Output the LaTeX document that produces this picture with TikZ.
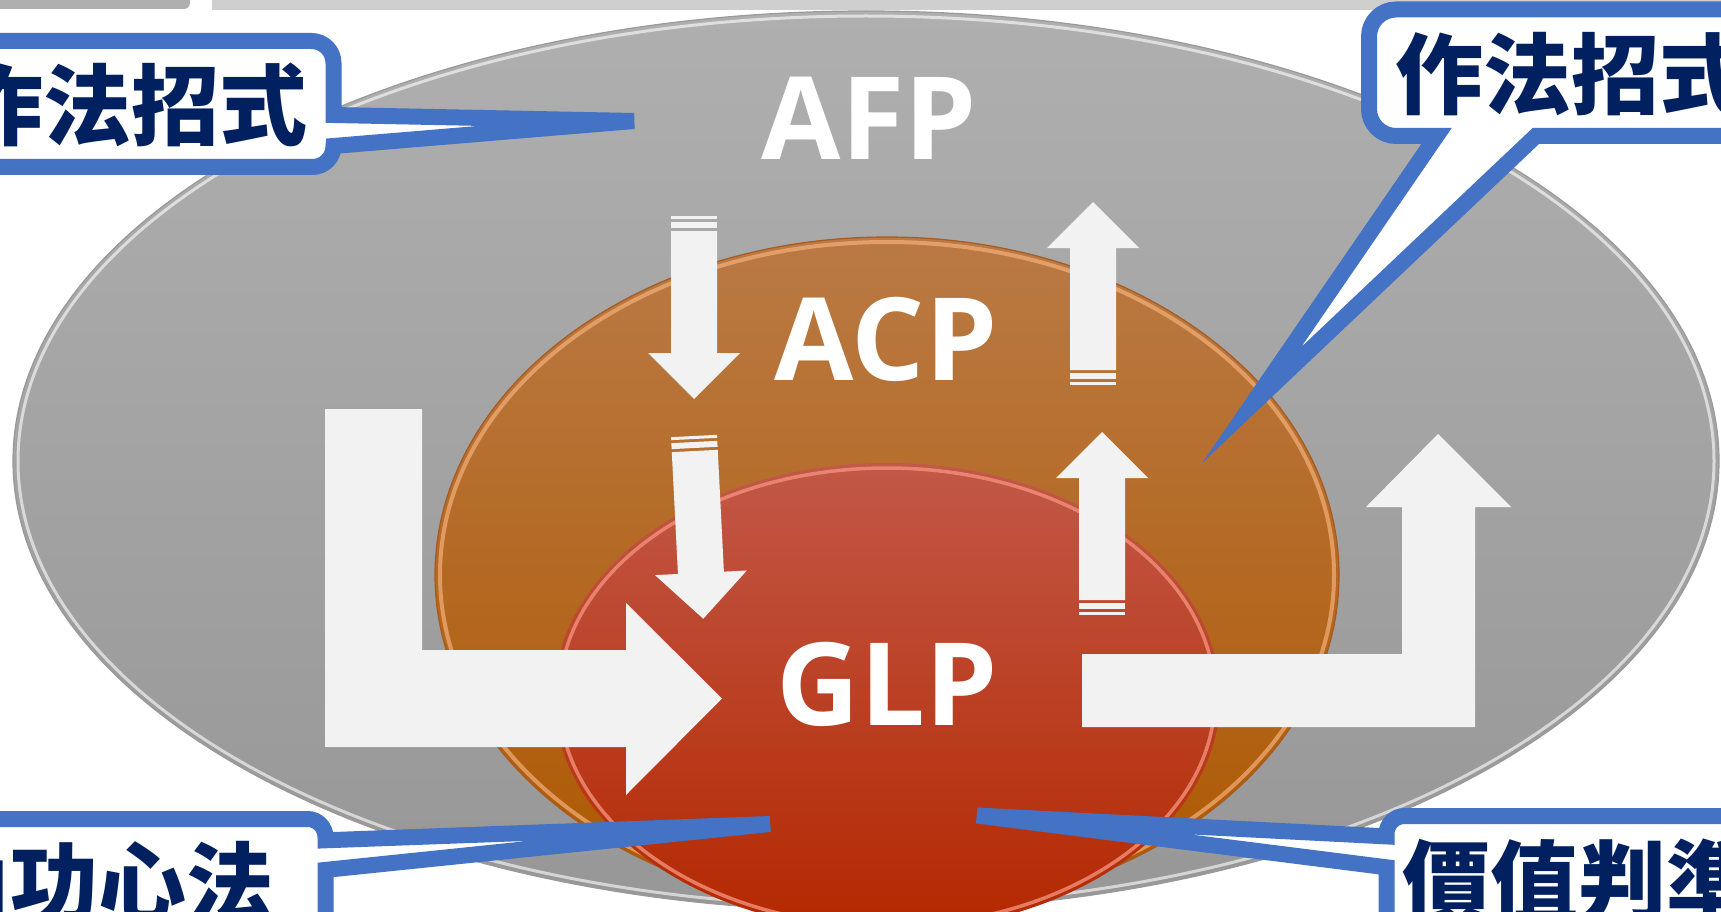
\documentclass[tikz,border=0pt]{standalone}
\usepackage{fontspec}
\newfontfamily\latfont{Open Sans}
\newfontfamily\cjk{Noto Sans CJK TC}
\definecolor{callblue}{HTML}{4472C4}
\definecolor{navy}{HTML}{002060}
\definecolor{arrw}{HTML}{F2F2F2}
\definecolor{gtop}{HTML}{AFAFAF}
\definecolor{gbot}{HTML}{979797}
\definecolor{gedge}{HTML}{9A9A9A}
\definecolor{otop}{HTML}{BA7A45}
\definecolor{omid}{HTML}{B5660E}
\definecolor{obot}{HTML}{AE5800}
\definecolor{orim}{HTML}{F4B07A}
\definecolor{oedge}{HTML}{A85A20}
\definecolor{rtop}{HTML}{C25848}
\definecolor{rmid}{HTML}{BC3508}
\definecolor{rbot}{HTML}{B42800}
\definecolor{rrim}{HTML}{F2907A}
\definecolor{stripdark}{HTML}{AFAFAF}
\definecolor{striplight}{HTML}{CFCFCF}
\tikzset{
  striparrow/.pic={
    \fill[arrw] (-23,0) rectangle (23,3);
    \fill[arrw] (-23,6) rectangle (23,12);
    \fill[arrw] (-23,15) -- (23,15) -- (23,137) -- (46,137) -- (0,183) -- (-46,137) -- (-23,137) -- cycle;
  },
  callout/.style={fill=white, draw=callblue, line width=16pt, line join=miter},
  cjklabel/.style={text=navy, font=\cjk\bfseries\fontsize{88}{88}\selectfont, inner sep=0pt},
  latlabel/.style={text=white, font=\latfont\bfseries\fontsize{115}{115}\selectfont, inner sep=0pt},
  bigarrow/.style={fill=arrw, draw=none}
}
\begin{document}
\begin{tikzpicture}[x=1pt,y=-1pt]
\useasboundingbox (0,0) rectangle (1721,912);
\clip (0,0) rectangle (1721,912);
\fill[white] (0,0) rectangle (1721,912);
% top strips
\fill[stripdark, rounded corners=6] (-10,-10) rectangle (190,9);
\fill[striplight] (212,-10) rectangle (1740,10);
% gray ellipse
\shade[top color=gtop, bottom color=gbot] (866,461) ellipse[x radius=853, y radius=450];
\draw[gedge, line width=1.2pt] (866,461) ellipse[x radius=853, y radius=450];
\draw[white, line width=3pt, opacity=.6] (866,461) ellipse[x radius=848, y radius=445];
% orange ellipse
\shade[top color=otop, middle color=omid, bottom color=obot] (887,575) ellipse[x radius=452, y radius=338];
\draw[oedge, line width=1.2pt] (887,575) ellipse[x radius=452, y radius=338];
\draw[orim, line width=4pt, opacity=.7] (887,575) ellipse[x radius=447, y radius=333];
% red ellipse
\shade[top color=rtop, middle color=rmid, bottom color=rbot] (887,697) ellipse[x radius=333, y radius=234];
\draw[rrim, line width=3.5pt, opacity=.8] (887,697) ellipse[x radius=328, y radius=229];
% striped arrows
\pic at (694,216) {striparrow};
\pic[rotate=2.9] at (694,436) {striparrow};
\pic[rotate=180] at (1093,385) {striparrow};
\pic[rotate=180] at (1102,615) {striparrow};
% bent arrows
\fill[bigarrow] (325,409) -- (422,409) -- (422,650) -- (626,650) -- (626,603) -- (722,698.5) -- (626,795) -- (626,747) -- (325,747) -- cycle;
\fill[bigarrow] (1082,654) -- (1402,654) -- (1402,507) -- (1366,507) -- (1438,434) -- (1511,507) -- (1475,507) -- (1475,727) -- (1082,727) -- cycle;
% labels
\node[latlabel, anchor=base] (afp) at (869,160) {AFP};
\node[latlabel, anchor=base] (acp) at (886,380) {ACP};
\node[latlabel, anchor=base] (glp) at (887,725) {GLP};
% callouts
\path[callout] (-60,41) -- (311.5,41) arc[start angle=-90, end angle=0, radius=22] -- (333.5,115) -- (634,121) -- (333.5,146) arc[start angle=0, end angle=90, radius=21] -- (-60,167) -- cycle;
\path[callout, miter limit=11] (1800,9.5) -- (1396,9.5) arc[start angle=-90, end angle=-180, radius=27] -- (1369,109) arc[start angle=180, end angle=90, radius=27] -- (1436.5,136) -- (1251.6,405.1) -- (1535.8,136) -- (1800,136) -- cycle;
\path[callout] (-60,819) -- (307.5,819) arc[start angle=-90, end angle=0, radius=18] -- (325.5,840.3) -- (770,824) -- (325.5,869.9) -- (325.5,960) -- (-60,960) -- cycle;
\path[callout] (1800,816) -- (1404.5,816) arc[start angle=-90, end angle=-180, radius=18] -- (1386.5,836.4) -- (977,815.5) -- (1386.5,867.3) -- (1386.5,960) -- (1800,960) -- cycle;
% callout texts
\node[cjklabel, anchor=base west] (tl) at (-45,139) {作法招式};
\node[cjklabel, anchor=base west] (tr) at (1395,108) {作法招式};
\node[cjklabel, anchor=base west] (bl) at (-78,916) {內功心法};
\node[cjklabel, anchor=base west] (br) at (1402,914) {價值判準};
\end{tikzpicture}
\end{document}
